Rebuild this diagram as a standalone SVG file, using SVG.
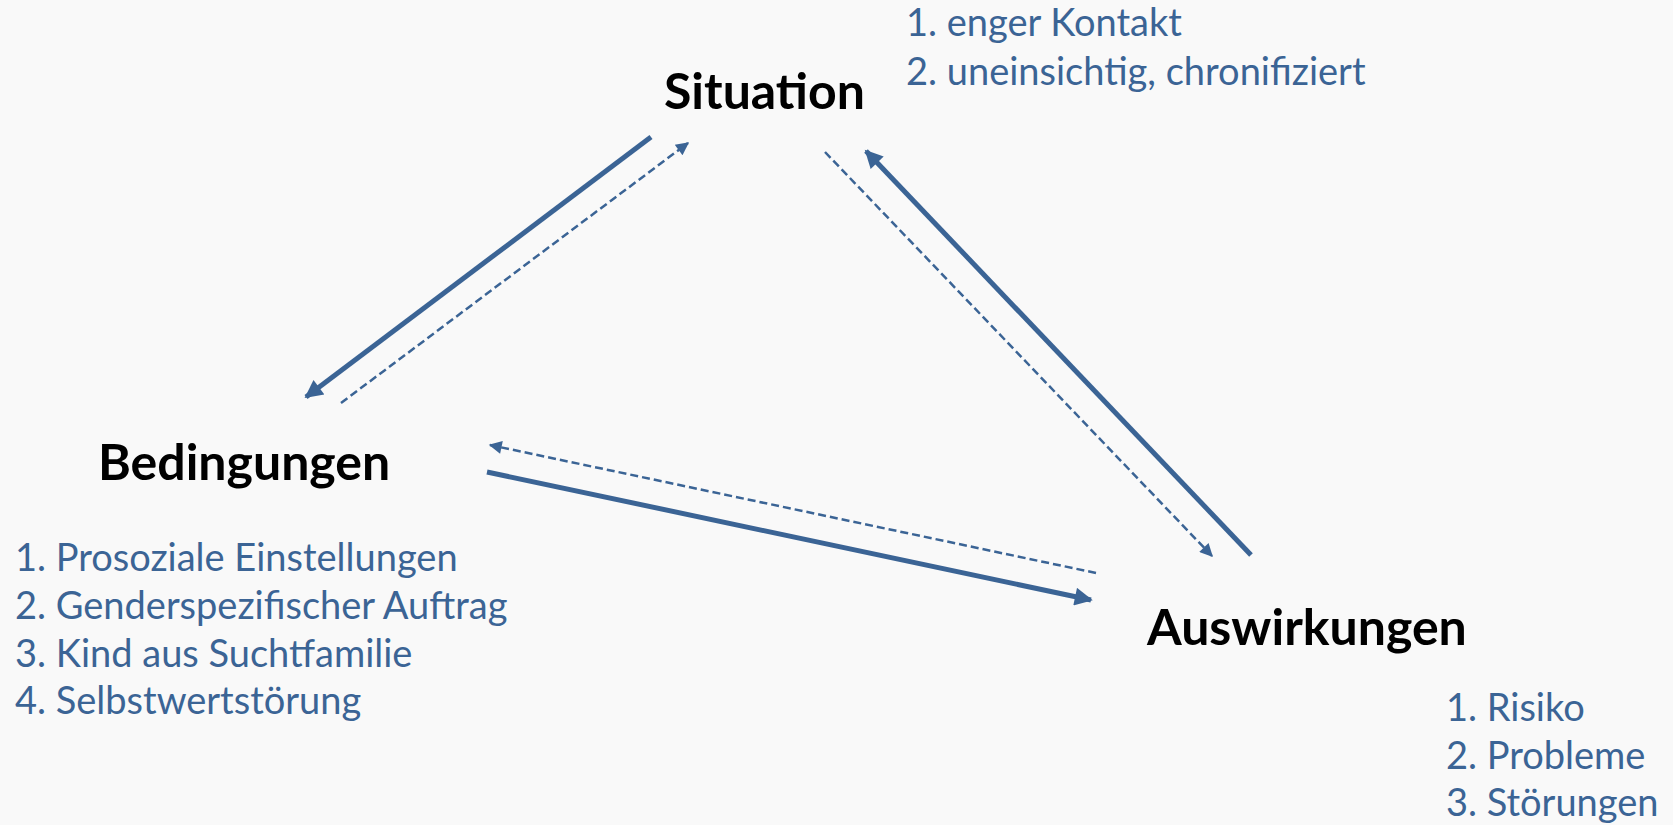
<svg xmlns="http://www.w3.org/2000/svg" width="1673" height="825" viewBox="0 0 1673 825">
<style>
.bg{fill:#f9f9f9}
.h{font-family:Lato,"Open Sans",sans-serif;font-weight:700;font-size:50px;fill:#000}
.t{font-family:Lato,"Open Sans",sans-serif;font-size:38px;fill:#3b6495}
.s{stroke:#3b6495;stroke-width:5;fill:none}
.d{stroke:#3b6495;stroke-width:2.5;fill:none;stroke-dasharray:8 4}
</style>
<defs>
<marker id="ah" viewBox="0 0 10 10" refX="9" refY="5" markerUnits="userSpaceOnUse" markerWidth="20" markerHeight="18" orient="auto"><path d="M0,0 L10,5 L0,10 z" fill="#3b6495"/></marker>
<marker id="ahd" viewBox="0 0 10 10" refX="9" refY="5" markerUnits="userSpaceOnUse" markerWidth="15" markerHeight="13" orient="auto"><path d="M0,0 L10,5 L0,10 z" fill="#3b6495"/></marker>
</defs>
<rect class="bg" x="0" y="0" width="1673" height="825"/>
<g id="connectors">
<line class="s" x1="651" y1="137" x2="306" y2="397" marker-end="url(#ah)"/>
<line class="d" x1="341" y1="403" x2="688" y2="143" marker-end="url(#ahd)"/>
<line class="s" x1="1251" y1="555" x2="866" y2="151" marker-end="url(#ah)"/>
<line class="d" x1="825" y1="152" x2="1212" y2="556" marker-end="url(#ahd)"/>
<line class="s" x1="487" y1="472" x2="1091" y2="600" marker-end="url(#ah)"/>
<line class="d" x1="1096" y1="573" x2="490" y2="445" marker-end="url(#ahd)"/>
</g>
<g id="situation">
<text class="h" x="664" y="109">Situation</text>
<text class="t" x="906" y="36">1. enger Kontakt</text>
<text class="t" x="906" y="85">2. uneinsichtig, chronifiziert</text>
</g>
<g id="bedingungen">
<text class="h" x="98" y="480">Bedingungen</text>
<text class="t" x="15" y="571">1. Prosoziale Einstellungen</text>
<text class="t" x="15" y="619">2. Genderspezifischer Auftrag</text>
<text class="t" x="15" y="667">3. Kind aus Suchtfamilie</text>
<text class="t" x="15" y="714">4. Selbstwertstörung</text>
</g>
<g id="auswirkungen">
<text class="h" x="1147" y="645">Auswirkungen</text>
<text class="t" x="1446" y="721">1. Risiko</text>
<text class="t" x="1446" y="769">2. Probleme</text>
<text class="t" x="1446" y="816">3. Störungen</text>
</g>
</svg>
